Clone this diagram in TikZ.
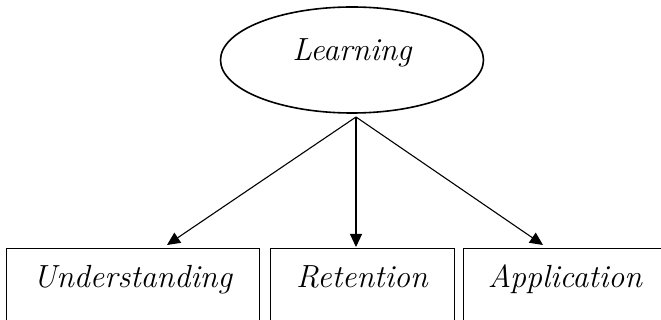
\documentclass[tikz,border=0pt]{standalone}
\usetikzlibrary{arrows.meta,shapes.geometric}

\tikzset{
  lbl/.style={font=\fontsize{32}{38}\selectfont\itshape},
  topic/.style={draw, ellipse, line width=1.6pt, inner sep=0pt,
    minimum width=263pt, minimum height=106pt, lbl,
    text height=23pt, text depth=21pt},
  facet/.style={draw, rectangle, line width=1pt, anchor=north, lbl,
    inner xsep=0pt, inner ysep=16pt, text height=23pt, text depth=20pt},
  link/.style={line width=1.1pt, -{Triangle[length=13pt,width=12pt]}},
}

\begin{document}
\begin{tikzpicture}[x=1pt,y=-1pt]
  \useasboundingbox (0,0) rectangle (661,320);
  \clip (0,0) rectangle (661,320);

  % parent concept
  \node[topic] (learn) at (352,60) {Learning};
  \coordinate (hub) at (356,117);

  % three outcomes
  \node[facet, minimum width=253pt] (und) at (132.5,248) {Understanding};
  \node[facet, minimum width=184pt] (ret) at (362,248) {Retention};
  \node[facet, minimum width=204pt] (app) at (565,248) {Application};

  % links from the parent to each outcome
  \draw[link] (hub) -- ([xshift=34.5pt,yshift=3pt]und.north);
  \draw[link] (hub) -- ([xshift=-6pt,yshift=1pt]ret.north);
  \draw[link] (hub) -- ([xshift=-22pt,yshift=3pt]app.north);
\end{tikzpicture}
\end{document}
